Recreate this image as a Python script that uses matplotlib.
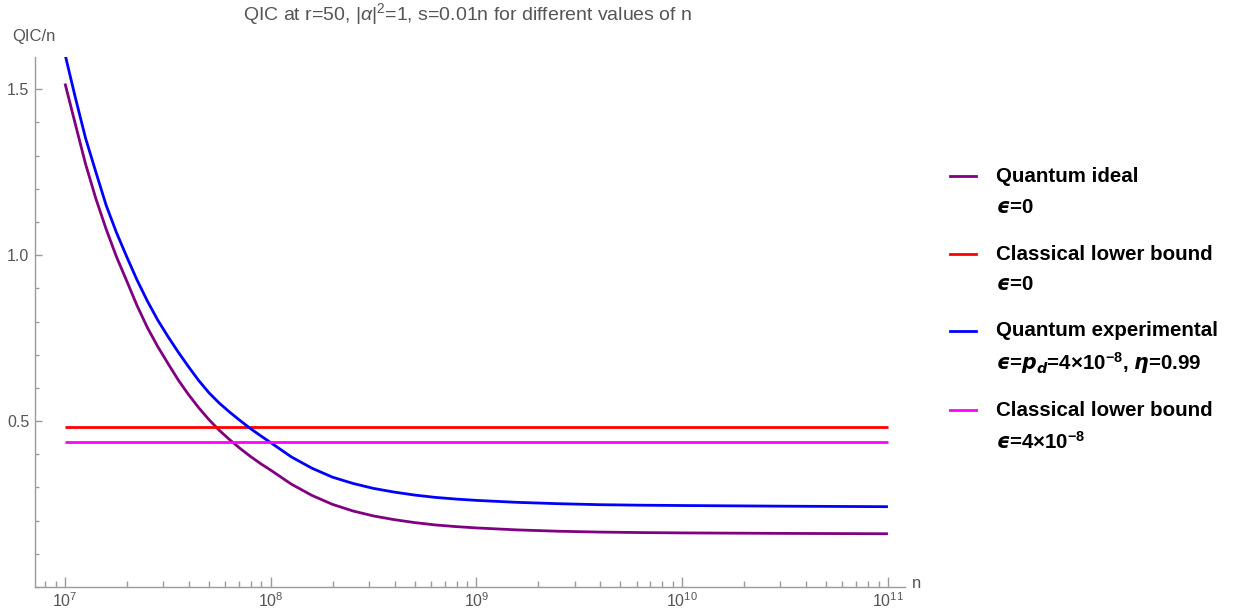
import numpy as np
import matplotlib
matplotlib.use("Agg")
import matplotlib.pyplot as plt
from matplotlib.lines import Line2D
from matplotlib.ticker import LogLocator, LogFormatterMathtext, MultipleLocator, FixedLocator, NullFormatter

# ---------------- data ----------------
log_n_ideal = [7.0, 7.05, 7.1, 7.15, 7.2, 7.25, 7.3, 7.35, 7.4, 7.45, 7.5, 7.55, 7.6, 7.65,
               7.7, 7.75, 7.8, 7.85, 7.9, 7.95, 8.0, 8.1, 8.2, 8.3, 8.4, 8.5, 8.6, 8.7,
               8.8, 8.9, 9.0, 9.2, 9.4, 9.6, 9.8, 10.0, 10.5, 11.0]
qic_ideal = [1.517, 1.395, 1.274, 1.170, 1.078, 0.995, 0.922, 0.848, 0.782, 0.725, 0.674,
             0.624, 0.580, 0.540, 0.504, 0.472, 0.444, 0.418, 0.394, 0.372, 0.352, 0.310,
             0.276, 0.249, 0.229, 0.214, 0.203, 0.194, 0.187, 0.182, 0.178, 0.172, 0.168,
             0.1655, 0.164, 0.163, 0.1615, 0.1605]

log_n_exp = [7.0, 7.05, 7.1, 7.15, 7.2, 7.25, 7.3, 7.35, 7.4, 7.45, 7.5, 7.55, 7.6, 7.65,
             7.7, 7.75, 7.8, 7.85, 7.9, 7.95, 8.0, 8.1, 8.2, 8.3, 8.4, 8.5, 8.6, 8.7,
             8.8, 8.9, 9.0, 9.2, 9.4, 9.6, 9.8, 10.0, 10.5, 11.0]
qic_exp = [1.605, 1.475, 1.352, 1.250, 1.150, 1.068, 0.995, 0.925, 0.862, 0.805, 0.755,
           0.708, 0.664, 0.622, 0.585, 0.554, 0.527, 0.502, 0.478, 0.456, 0.435, 0.392,
           0.358, 0.331, 0.312, 0.297, 0.286, 0.277, 0.270, 0.265, 0.261, 0.255, 0.251,
           0.248, 0.2465, 0.2455, 0.2435, 0.242]

log_n_bounds = [7.0, 11.0]
classical_eps0 = 0.482
classical_eps4e8 = 0.438

title = r"QIC at r=50, |$\alpha$|$^{2}$=1, s=0.01n for different values of n"
legend_main = ["Quantum ideal", "Classical lower bound", "Quantum experimental", "Classical lower bound"]
legend_sub = [
    r"$\mathbfit{ϵ}$=0",
    r"$\mathbfit{ϵ}$=0",
    r"$\mathbfit{ϵ}$=$\mathbfit{p}_{\mathbfit{d}}$=4×10$^{\mathbf{-8}}$, $\mathbfit{\eta}$=0.99",
    r"$\mathbfit{ϵ}$=4×10$^{\mathbf{-8}}$",
]
colors = ["#800080", "#FF0000", "#0000FF", "#FF00FF"]

# ---------------- style ----------------
plt.rcParams["font.family"] = ["Liberation Sans", "DejaVu Sans"]
plt.rcParams["mathtext.fontset"] = "custom"
plt.rcParams["mathtext.rm"] = "Liberation Sans"
plt.rcParams["mathtext.it"] = "Liberation Sans:italic"
plt.rcParams["mathtext.bf"] = "Liberation Sans:bold"
plt.rcParams["mathtext.bfit"] = "DejaVu Sans:bold:italic"

gray_text = "#555555"
gray_axis = "#9a9a9a"

W, H = 1233, 614
fig = plt.figure(figsize=(W / 100, H / 100), dpi=100)
ax = fig.add_axes([35 / W, 1 - 587 / H, (905 - 35) / W, (587 - 57) / H])

n_ideal = 10.0 ** np.array(log_n_ideal)
n_exp = 10.0 ** np.array(log_n_exp)
n_b = 10.0 ** np.array(log_n_bounds)

lw = 2.0
ax.plot(n_ideal, qic_ideal, color=colors[0], lw=lw, solid_capstyle="butt", solid_joinstyle="round")
ax.plot(n_b, [classical_eps0] * 2, color=colors[1], lw=lw, solid_capstyle="butt")
ax.plot(n_exp, qic_exp, color=colors[2], lw=lw, solid_capstyle="butt", solid_joinstyle="round")
ax.plot(n_b, [classical_eps4e8] * 2, color=colors[3], lw=lw, solid_capstyle="butt")

ax.set_xscale("log")
ax.set_xlim(10 ** 6.854, 10 ** 11.083)
ax.set_ylim(0, 1.597)

for s in ["top", "right"]:
    ax.spines[s].set_visible(False)
for s in ["left", "bottom"]:
    ax.spines[s].set_color(gray_axis)
    ax.spines[s].set_linewidth(1.0)

ax.xaxis.set_major_locator(LogLocator(base=10, numticks=20))
ax.xaxis.set_major_formatter(LogFormatterMathtext())
ax.xaxis.set_minor_locator(LogLocator(base=10, subs=np.arange(2, 10), numticks=20))
ax.xaxis.set_minor_formatter(NullFormatter())
ax.yaxis.set_major_locator(FixedLocator([0.5, 1.0, 1.5]))
ax.yaxis.set_minor_locator(MultipleLocator(0.1))
ax.yaxis.set_major_formatter(plt.FuncFormatter(lambda v, p: f"{v:.1f}"))

ax.tick_params(axis="both", which="major", direction="in", color=gray_axis,
               labelcolor=gray_text, labelsize=11.5, width=1.0)
ax.tick_params(axis="x", which="major", length=7, pad=3)
ax.tick_params(axis="x", which="minor", direction="in", length=4, color=gray_axis, width=1.0)
ax.tick_params(axis="y", which="major", length=5, pad=4)
ax.tick_params(axis="y", which="minor", direction="in", length=3, color=gray_axis, width=1.0)

# axis labels in Mathematica style
fig.text(12 / W, 1 - 37 / H, "QIC/n", color=gray_text, fontsize=12, va="center", ha="left")
fig.text(912 / W, 1 - 583 / H, "n", color=gray_text, fontsize=12, va="center", ha="left")

# title
fig.text(468 / W, 1 - 14 / H, title, color=gray_text, fontsize=14, ha="center", va="center")

# legend (manual, Mathematica style)
rows_main = [176, 254, 331, 410]
rows_sub = [208, 285, 363, 442]
for i in range(4):
    y = 1 - rows_main[i] / H
    fig.add_artist(Line2D([950 / W, 976 / W], [y, y], color=colors[i], lw=lw,
                          transform=fig.transFigure))
    fig.text(996 / W, y, legend_main[i], fontsize=14.8, fontweight="bold",
             color="black", va="center", ha="left")
    fig.text(996 / W, 1 - rows_sub[i] / H, legend_sub[i], fontsize=14.8, fontweight="bold",
             color="black", va="center", ha="left")

fig.savefig("out.png", dpi=100)
